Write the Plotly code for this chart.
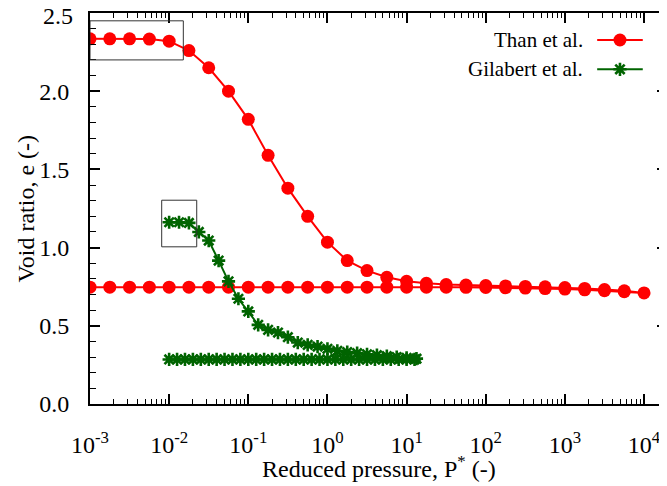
import plotly.graph_objects as go

# ---------------- data ----------------
# Than et al. : loading branch (log10 P from -3 to 4, step 0.25) and unloading branch
than_p_load = [10 ** (-3 + 0.25 * i) for i in range(29)]
than_e_load = [2.335, 2.335, 2.335, 2.333, 2.32, 2.26, 2.15, 2.00, 1.82, 1.59,
               1.38, 1.20, 1.035, 0.917, 0.853, 0.81, 0.785, 0.772, 0.764, 0.761,
               0.757, 0.755, 0.752, 0.749, 0.745, 0.739, 0.732, 0.724, 0.71]
than_p_unload = [10 ** (3.75 - 0.25 * i) for i in range(28)]
than_e_unload = [0.718, 0.724, 0.73, 0.735, 0.738, 0.741, 0.743, 0.745, 0.746, 0.747,
                 0.747, 0.747, 0.747, 0.747, 0.747, 0.747, 0.747, 0.747, 0.747, 0.747,
                 0.747, 0.747, 0.747, 0.747, 0.747, 0.747, 0.747, 0.747]

# Gilabert et al. : loading branch (log10 P from -2 to 1.125, step 0.125) and unloading branch
gil_p_load = [10 ** (-2 + 0.125 * i) for i in range(26)]
gil_e_load = [1.162, 1.162, 1.158, 1.10, 1.045, 0.917, 0.784, 0.673, 0.592, 0.506,
              0.474, 0.457, 0.427, 0.393, 0.378, 0.367, 0.353, 0.34, 0.332, 0.325,
              0.318, 0.312, 0.306, 0.30, 0.295, 0.29]
gil_p_unload = [10 ** (1.1 - 0.1 * i) for i in range(32)]
gil_e_unload = [0.285] * 32

x_tick_vals = [1e-3, 1e-2, 1e-1, 1e0, 1e1, 1e2, 1e3, 1e4]
x_tick_text = ["10<sup>-3</sup>", "10<sup>-2</sup>", "10<sup>-1</sup>", "10<sup>0</sup>",
               "10<sup>1</sup>", "10<sup>2</sup>", "10<sup>3</sup>", "10<sup>4</sup>"]
x_minor_vals = [m * 10 ** k for k in range(-3, 5) for m in range(2, 10)]
y_tick_vals = [0.0, 0.5, 1.0, 1.5, 2.0, 2.5]
y_tick_text = ["0.0", "0.5", "1.0", "1.5", "2.0", ""]
y_top_label = "2.5"   # drawn as an annotation (plotly drops the edge label)

x_title = "Reduced pressure, P<sup>*</sup> (-)"
y_title = "Void ratio, e (-)"

# highlight boxes (data coordinates): [x0, x1, y0, y1]
box_than = [1e-3, 0.0151, 2.20, 2.45]
box_gil = [0.00805, 0.0223, 1.005, 1.303]

RED = "#ff0000"
GREEN = "#006400"
FONT = "Liberation Serif"

fig = go.Figure()

fig.add_trace(go.Scatter(
    x=than_p_load + than_p_unload, y=than_e_load + than_e_unload,
    mode="lines+markers", name="Than et al.",
    line=dict(color=RED, width=2),
    marker=dict(symbol="circle", size=13, color=RED),
    showlegend=False))

fig.add_trace(go.Scatter(
    x=gil_p_load + gil_p_unload, y=gil_e_load + gil_e_unload,
    mode="lines+markers", name="Gilabert et al.",
    line=dict(color=GREEN, width=2),
    marker=dict(symbol="asterisk-open", size=11, color=GREEN,
                line=dict(color=GREEN, width=2.6)),
    showlegend=False))

# ---- custom legend (text left of key, as in the reference) on an overlay axis ----
leg_rows = [0.931, 0.856]
leg_line_x = [0.879, 0.958]
leg_mark_x = 0.9185
leg_text_x = 0.858
leg_items = [("Than et al.", RED, "circle", 13, 0), ("Gilabert et al.", GREEN, "asterisk-open", 11, 2.6)]
for (label, col, sym, sz, lw), ry in zip(leg_items, leg_rows):
    fig.add_trace(go.Scatter(x=leg_line_x, y=[ry, ry], mode="lines",
                             line=dict(color=col, width=2),
                             xaxis="x2", yaxis="y2", showlegend=False, hoverinfo="skip"))
    fig.add_trace(go.Scatter(x=[leg_mark_x], y=[ry], mode="markers",
                             marker=dict(symbol=sym, size=sz, color=col,
                                         line=dict(color=col, width=lw)),
                             xaxis="x2", yaxis="y2", showlegend=False, hoverinfo="skip"))
    fig.add_annotation(x=leg_text_x, y=ry, xref="paper", yref="paper", text=label,
                       showarrow=False, xanchor="right", yanchor="middle",
                       font=dict(family=FONT, size=21, color="black"))

# axis titles
fig.add_annotation(x=0.5, y=-0.161, xref="paper", yref="paper", text=x_title,
                   showarrow=False, xanchor="center", yanchor="middle",
                   font=dict(family=FONT, size=24, color="black"))
fig.add_annotation(x=-0.111, y=0.5, xref="paper", yref="paper", text=y_title,
                   textangle=-90, showarrow=False, xanchor="center", yanchor="middle",
                   font=dict(family=FONT, size=24, color="black"))
# top y tick label
fig.add_annotation(x=-0.026, y=y_tick_vals[-1], xref="paper", yref="y", text=y_top_label,
                   showarrow=False, xanchor="right", yanchor="middle", yshift=-3,
                   font=dict(family=FONT, size=24, color="black"))

for b in (box_than, box_gil):
    fig.add_shape(type="rect", xref="x", yref="y", x0=b[0], x1=b[1], y0=b[2], y1=b[3],
                  line=dict(color="#333333", width=1), fillcolor="rgba(0,0,0,0)")

# the page body has an 8 px margin, so the figure is 8 px smaller and margins are shifted
fig.update_layout(
    width=659, height=478,
    margin=dict(l=82, r=0, t=5, b=82, autoexpand=False),
    paper_bgcolor="white", plot_bgcolor="white",
    font=dict(family=FONT, size=24, color="black"),
    showlegend=False,
    xaxis=dict(
        type="log", range=[-3, 4.29], automargin=False,
        tickmode="array", tickvals=x_tick_vals, ticktext=x_tick_text,
        ticks="inside", ticklen=10, tickwidth=1.5, tickcolor="black",
        showline=True, linecolor="black", linewidth=2, mirror="ticks",
        showgrid=False, zeroline=False,
        tickfont=dict(family=FONT, size=24),
        ticklabelstandoff=18,
        minor=dict(tickmode="array", tickvals=x_minor_vals, ticks="inside",
                   ticklen=5, tickwidth=1.2, tickcolor="black", showgrid=False),
    ),
    yaxis=dict(
        range=[0, 2.5], tickmode="array", tickvals=y_tick_vals, ticktext=y_tick_text,
        automargin=False,
        ticks="inside", ticklen=10, tickwidth=1.5, tickcolor="black",
        showline=True, linecolor="black", linewidth=2, mirror="ticks",
        showgrid=False, zeroline=False,
        tickfont=dict(family=FONT, size=24),
        ticklabelstandoff=14,
        minor=dict(dtick=0.1, ticks="inside", ticklen=6, tickwidth=1.2,
                   tickcolor="black", showgrid=False),
    ),
    xaxis2=dict(overlaying="x", range=[0, 1], visible=False, fixedrange=True),
    yaxis2=dict(overlaying="y", range=[0, 1], visible=False, fixedrange=True),
)

fig.write_html("out.html")
